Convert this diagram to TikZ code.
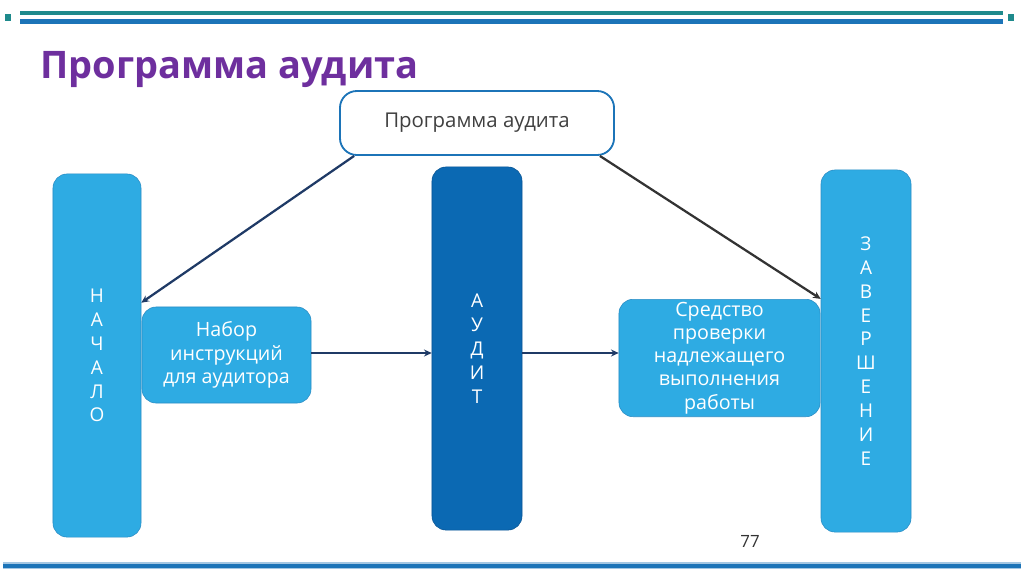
\documentclass[tikz,border=0pt]{standalone}
\usepackage{fontspec}
\setmainfont{Open Sans}
\usetikzlibrary{arrows.meta}

\definecolor{titlepurple}{HTML}{6E2F9E}
\definecolor{barteal}{HTML}{1E8A8C}
\definecolor{barblue}{HTML}{1C74B8}
\definecolor{lightbox}{HTML}{2EABE3}
\definecolor{lightedge}{HTML}{2A8CC4}
\definecolor{darkbox}{HTML}{0B69B3}
\definecolor{darkedge}{HTML}{0A5594}
\definecolor{arrowblue}{HTML}{1F3A66}
\definecolor{arrowgray}{HTML}{333333}

\tikzset{
  stepbox/.style={draw=lightedge,fill=lightbox,rounded corners=10pt,text=white,
    align=center,font=\fontsize{14}{16.5}\selectfont,inner sep=2pt},
  letterbox/.style={stepbox,font=\fontsize{13.5}{17}\selectfont},
  link/.style={->,line width=1.6pt},
}

\begin{document}
\begin{tikzpicture}[x=0.025cm,y=-0.025cm,>={Stealth[length=5.5pt,width=5pt]}]
  \useasboundingbox (0,0) rectangle (1024,574);

  % Header and footer bars
  \fill[barteal] (20,11) rectangle (1003,15);
  \fill[barblue] (20,19) rectangle (1003,23.5);
  \fill[barteal] (5,13.5) rectangle (11,20.5);
  \fill[barteal] (1008,13.5) rectangle (1014,20.5);
  \fill[barblue!40] (3,562) rectangle (1021,569);
  \fill[barblue] (3,563.5) rectangle (1021,567.5);

  % Title
  \node[anchor=base west,text=titlepurple,font=\fontsize{27}{32}\selectfont\bfseries,inner sep=0pt]
    (title) at (40,78) {Программа аудита};

  % Program box
  \node[draw=barblue,line width=1.3pt,fill=white,rounded corners=12pt,text=black!75,
    minimum width=6.85cm,minimum height=1.6cm,font=\fontsize{14.5}{16}\selectfont]
    (prog) at (477,123) {Программа аудита};

  % Columns
  \node[letterbox,minimum width=2.2cm,minimum height=9.075cm]
    (start) at (97,355.5) {Н\\А\\Ч\\А\\Л\\О};
  \node[letterbox,draw=darkedge,fill=darkbox,minimum width=2.25cm,minimum height=9.075cm]
    (audit) at (477,348.5) {А\\У\\Д\\И\\Т};
  \node[letterbox,minimum width=2.25cm,minimum height=9.05cm]
    (finish) at (866,351) {З\\А\\В\\Е\\Р\\Ш\\Е\\Н\\И\\Е};

  % Side boxes
  \node[stepbox,minimum width=4.225cm,minimum height=2.4cm]
    (instr) at (226.5,355) {Набор\\инструкций\\для аудитора};
  \node[stepbox,minimum width=5.025cm,minimum height=2.85cm]
    (check) at (719.5,358) {Средство\\проверки\\надлежащего\\выполнения\\работы};

  % Connectors
  \draw[link,arrowblue] (prog.195) -- (start.50);
  \draw[link,arrowgray] (prog.345) -- (finish.131);
  \draw[link,arrowblue] (instr.east |- 0,353) -- (audit.west |- 0,353);
  \draw[link,arrowblue] (audit.east |- 0,353) -- (check.west |- 0,353);

  % Page number
  \node[text=black!80,font=\fontsize{12}{14}\selectfont] (pagenum) at (750,541) {77};
\end{tikzpicture}
\end{document}
